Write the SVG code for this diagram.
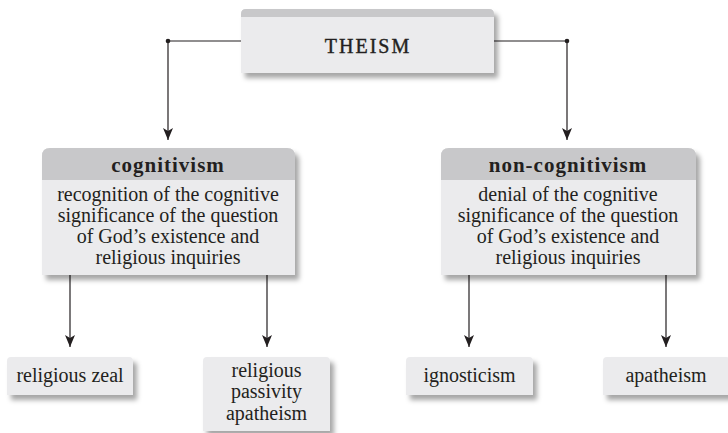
<svg xmlns="http://www.w3.org/2000/svg" width="728" height="433" viewBox="0 0 728 433">
<defs>
<filter id="sh" x="-10%" y="-20%" width="130%" height="150%">
<feDropShadow dx="4" dy="5" stdDeviation="2.5" flood-color="#000" flood-opacity="0.35"/>
</filter>
<marker id="arr" viewBox="0 0 12 10" refX="12" refY="5" markerWidth="12" markerHeight="10" markerUnits="userSpaceOnUse" orient="auto">
<path d="M0,0 L12,5 L0,10 L3,5 Z" fill="#231f20"/>
</marker>
</defs>
<style>
.box{fill:#ebebed}
.hd{fill:#c8c8ca}
.c{fill:none;stroke:#231f20;stroke-width:1.2}
</style>
<g id="connectors">
<path class="c" d="M241,41 H168 V140" marker-end="url(#arr)"/>
<path class="c" d="M494,41 H567 V140" marker-end="url(#arr)"/>
<circle cx="168" cy="41" r="2.3" fill="#231f20"/>
<circle cx="567" cy="41" r="2.3" fill="#231f20"/>
<path class="c" d="M70,275 V347" marker-end="url(#arr)"/>
<path class="c" d="M267,275 V347" marker-end="url(#arr)"/>
<path class="c" d="M469,275 V347" marker-end="url(#arr)"/>
<path class="c" d="M666,275 V347" marker-end="url(#arr)"/>
</g>
<g id="theism">
<g filter="url(#sh)">
<path class="box" d="M241,14 Q241,9 246,9 H489 Q494,9 494,14 V73 H241 Z"/>
</g>
<path class="hd" d="M241,14 Q241,9 246,9 H489 Q494,9 494,14 V17 H241 Z"/>
<text x="368" y="53" font-family="Liberation Serif" font-size="20" letter-spacing="2" fill="#231f20" stroke="#231f20" stroke-width="0.4" text-anchor="middle">THEISM</text>
</g>
<g id="cognitivism">
<g filter="url(#sh)">
<path class="box" d="M42,156 Q42,148 50,148 H287 Q295,148 295,156 V275 H42 Z"/>
</g>
<path class="hd" d="M42,156 Q42,148 50,148 H287 Q295,148 295,156 V180 H42 Z"/>
<text x="168" y="172" font-family="Liberation Serif" font-size="21" font-weight="bold" letter-spacing="1" fill="#231f20" text-anchor="middle">cognitivism</text>
<g font-family="Liberation Serif" font-size="20" fill="#231f20" text-anchor="middle">
<text x="168" y="201" font-family="Liberation Serif">recognition of the cognitive</text>
<text x="168" y="222" font-family="Liberation Serif">significance of the question</text>
<text x="168" y="243" font-family="Liberation Serif">of God’s existence and</text>
<text x="168" y="264" font-family="Liberation Serif">religious inquiries</text>
</g>
</g>
<g id="non-cognitivism">
<g filter="url(#sh)">
<path class="box" d="M441,156 Q441,148 449,148 H688 Q696,148 696,156 V275 H441 Z"/>
</g>
<path class="hd" d="M441,156 Q441,148 449,148 H688 Q696,148 696,156 V180 H441 Z"/>
<text x="568" y="172" font-family="Liberation Serif" font-size="21" font-weight="bold" letter-spacing="1" fill="#231f20" text-anchor="middle">non-cognitivism</text>
<g font-family="Liberation Serif" font-size="20" fill="#231f20" text-anchor="middle">
<text x="568" y="201" font-family="Liberation Serif">denial of the cognitive</text>
<text x="568" y="222" font-family="Liberation Serif">significance of the question</text>
<text x="568" y="243" font-family="Liberation Serif">of God’s existence and</text>
<text x="568" y="264" font-family="Liberation Serif">religious inquiries</text>
</g>
</g>
<g id="religious-zeal" font-family="Liberation Serif" font-size="20" fill="#231f20" text-anchor="middle">
<path class="box" filter="url(#sh)" d="M7,361 Q7,357 11,357 H129 Q133,357 133,361 V395 H7 Z"/>
<text x="70" y="382" font-family="Liberation Serif">religious zeal</text>
</g>
<g id="religious-passivity" font-family="Liberation Serif" font-size="20" fill="#231f20" text-anchor="middle">
<path class="box" filter="url(#sh)" d="M203,361 Q203,357 207,357 H326 Q330,357 330,361 V431 H203 Z"/>
<text x="266.5" y="377" font-family="Liberation Serif">religious</text>
<text x="266.5" y="398" font-family="Liberation Serif">passivity</text>
<text x="266.5" y="420" font-family="Liberation Serif">apatheism</text>
</g>
<g id="ignosticism" font-family="Liberation Serif" font-size="20" fill="#231f20" text-anchor="middle">
<path class="box" filter="url(#sh)" d="M406,361 Q406,357 410,357 H529 Q533,357 533,361 V395 H406 Z"/>
<text x="469.5" y="382" font-family="Liberation Serif">ignosticism</text>
</g>
<g id="apatheism" font-family="Liberation Serif" font-size="20" fill="#231f20" text-anchor="middle">
<path class="box" filter="url(#sh)" d="M603,361 Q603,357 607,357 H726 Q730,357 730,361 V395 H603 Z"/>
<text x="666" y="382" font-family="Liberation Serif">apatheism</text>
</g>
</svg>
